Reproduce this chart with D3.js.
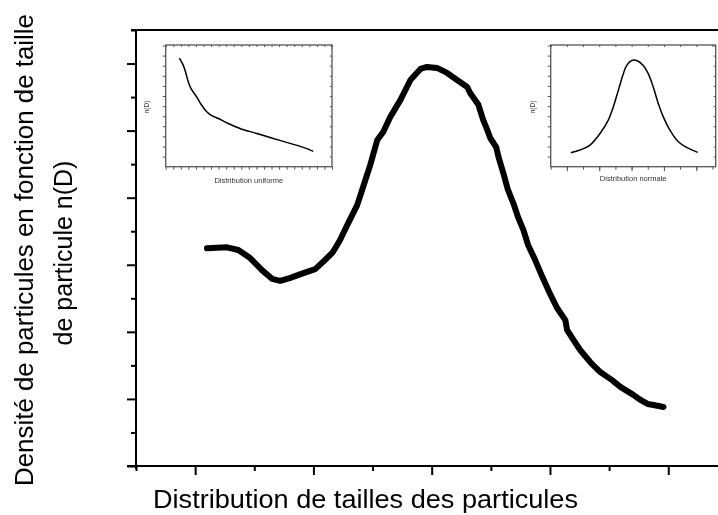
<!DOCTYPE html>
<html>
<head>
<meta charset="utf-8">
<script src="https://cdn.jsdelivr.net/npm/d3@7"></script>
<style>
  html, body { margin: 0; padding: 0; background: #fff; }
  svg { display: block; font-family: "Liberation Sans", Arial, Helvetica, sans-serif; will-change: transform; }
  text { -webkit-font-smoothing: antialiased; }
</style>
</head>
<body>
<svg id="chart" width="718" height="515"></svg>
<script>
// Main size distribution (arbitrary units on both axes)
const mainX = [1.20,1.54,1.73,1.93,2.13,2.30,2.44,2.61,2.83,3.03,3.16,3.33,3.45,3.59,3.74,3.84,3.96,4.08,4.18,4.30,
               4.47,4.64,4.81,4.92,5.09,5.26,5.43,5.60,5.65,5.79,5.87,5.94,5.99,6.09,6.13,6.21,6.29,6.38,6.46,6.55,
               6.63,6.75,6.87,7.01,7.12,7.26,7.29,7.43,7.51,7.68,7.85,8.05,8.19,8.41,8.53,8.65,8.75,8.92];
const mainY = [6.49,6.52,6.44,6.20,5.84,5.58,5.52,5.61,5.75,5.87,6.08,6.38,6.74,7.25,7.78,8.32,8.97,9.72,9.96,10.41,
               10.91,11.51,11.84,11.90,11.87,11.72,11.51,11.30,11.12,10.77,10.32,10.02,9.78,9.51,9.21,8.74,8.23,7.84,7.42,7.04,
               6.59,6.14,5.64,5.10,4.71,4.35,4.05,3.67,3.46,3.10,2.80,2.56,2.36,2.12,1.97,1.85,1.82,1.76];

// Inset: uniform distribution
const uniX = [1.80,2.33,2.69,2.99,3.35,4.10,4.76,5.33,5.99,6.96,8.28,9.83,12.04,14.23,16.44,18.20,19.52];
const uniY = [10.75,10.03,9.21,8.38,7.73,6.90,6.08,5.52,5.10,4.77,4.28,3.79,3.29,2.80,2.31,1.91,1.52];

// Inset: normal distribution
const normX = [1.24,1.81,2.43,3.05,3.56,3.87,4.18,4.49,4.70,5.01,5.32,5.72,6.03,6.34,6.65,6.96,7.37,7.89,8.41,9.09];
const normY = [1.38,1.65,2.14,3.29,4.61,5.92,7.56,9.21,10.03,10.52,10.52,10.03,9.21,7.89,6.25,4.93,3.62,2.47,1.91,1.42];

// Text
const xTitle = "Distribution de tailles des particules";
const yTitleLines = ["Densité de particules en fonction de taille", "de particule n(D)"];
const insetYTitle = "n(D)";
const uniTitle = "Distribution uniforme";
const normTitle = "Distribution normale";

const svg = d3.select("#chart");

// ---------- main plot ----------
const x = d3.scaleLinear().domain([0, 10]).range([136, 727.4]);
const y = d3.scaleLinear().domain([0, 13]).range([466, 30]);

const axisColor = "#000";
function styleAxis(g) {
  g.select(".domain").remove();
  g.selectAll("line").attr("stroke", axisColor).attr("stroke-width", 2);
  g.selectAll("text").remove();
}

const yMajor = d3.range(0, 13, 2);
const yMinor = d3.range(1, 14, 2);
const xMajor = d3.range(1, 10, 2);
const xMinor = d3.range(0, 11, 2);

svg.append("g").attr("transform", `translate(${x(0)},0)`)
  .call(d3.axisLeft(y).tickValues(yMajor).tickSize(9).tickFormat(""))
  .call(styleAxis);
svg.append("g").attr("transform", `translate(${x(0)},0)`)
  .call(d3.axisLeft(y).tickValues(yMinor).tickSize(5).tickFormat(""))
  .call(styleAxis);
svg.append("g").attr("transform", `translate(0,${y(0)})`)
  .call(d3.axisBottom(x).tickValues(xMajor).tickSize(9).tickFormat(""))
  .call(styleAxis);
svg.append("g").attr("transform", `translate(0,${y(0)})`)
  .call(d3.axisBottom(x).tickValues(xMinor).tickSize(5).tickFormat(""))
  .call(styleAxis);

// frame lines: left, bottom, top
svg.append("line").attr("x1", x(0)).attr("x2", x(0)).attr("y1", y(13) - 1).attr("y2", y(0) + 3)
  .attr("stroke", axisColor).attr("stroke-width", 2);
svg.append("line").attr("x1", x(0) - 9).attr("x2", 718).attr("y1", y(0)).attr("y2", y(0))
  .attr("stroke", axisColor).attr("stroke-width", 2);
svg.append("line").attr("x1", x(0) - 5).attr("x2", 718).attr("y1", y(13)).attr("y2", y(13))
  .attr("stroke", axisColor).attr("stroke-width", 2);

const mainLine = d3.line().x(d => x(d[0])).y(d => y(d[1])).curve(d3.curveLinear);
svg.append("path")
  .datum(d3.zip(mainX, mainY))
  .attr("d", mainLine)
  .attr("fill", "none")
  .attr("stroke", "#000")
  .attr("stroke-width", 6)
  .attr("stroke-linejoin", "round")
  .attr("stroke-linecap", "round");

// axis titles
svg.append("text")
  .attr("x", 153).attr("y", 508)
  .attr("font-size", 25)
  .attr("textLength", 425).attr("lengthAdjust", "spacingAndGlyphs")
  .attr("fill", "#000")
  .text(xTitle);

const yt = svg.append("text")
  .attr("transform", "translate(0,250) rotate(-90)")
  .attr("text-anchor", "middle")
  .attr("font-size", 25)
  .attr("fill", "#000");
yt.append("tspan").attr("x", 0).attr("y", 33)
  .attr("textLength", 472).attr("lengthAdjust", "spacingAndGlyphs")
  .text(yTitleLines[0]);
yt.append("tspan").attr("x", -3).attr("y", 72).text(yTitleLines[1]);

// ---------- insets ----------
function inset(opts) {
  const { xs, ys, xDomain, x0, x1, xMajorTicks, label, labelY, labelX } = opts;
  const ix = d3.scaleLinear().domain(xDomain).range([x0, x1]);
  const iy = d3.scaleLinear().domain([0, 12]).range([166.7, 45.5]);
  const g = svg.append("g");
  const frameColor = "#555";
  const sty = sel => {
    sel.select(".domain").remove();
    sel.selectAll("line").attr("stroke", frameColor).attr("stroke-width", 1);
    sel.selectAll("text").remove();
  };
  const xt = d3.range(Math.ceil(xDomain[0]), Math.floor(xDomain[1]) + 1);
  const yt = d3.range(1, 13);
  // frame
  g.append("rect")
    .attr("x", x0).attr("y", iy(12) - 0.5)
    .attr("width", x1 - x0).attr("height", iy(0) - iy(12) + 0.5)
    .attr("fill", "#fff").attr("stroke", frameColor).attr("stroke-width", 1.3);
  // ticks
  g.append("g").attr("transform", `translate(${x0},0)`)
    .call(d3.axisLeft(iy).tickValues(yt).tickSize(3).tickFormat("")).call(sty);
  g.append("g").attr("transform", `translate(${x1},0)`)
    .call(d3.axisLeft(iy).tickValues(yt).tickSize(2).tickFormat("")).call(sty);
  g.append("g").attr("transform", `translate(0,${iy(12) - 0.5})`)
    .call(d3.axisBottom(ix).tickValues(xt).tickSize(2).tickFormat("")).call(sty);
  g.append("g").attr("transform", `translate(0,${iy(0)})`)
    .call(d3.axisBottom(ix).tickValues(xt).tickSize(3).tickFormat("")).call(sty);
  if (xMajorTicks) {
    g.append("g").attr("transform", `translate(0,${iy(0)})`)
      .call(d3.axisBottom(ix).tickValues(xMajorTicks).tickSize(4.5).tickFormat("")).call(sty);
  }
  // curve
  g.append("path")
    .datum(d3.zip(xs, ys))
    .attr("d", d3.line().x(d => ix(d[0])).y(d => iy(d[1])).curve(d3.curveCatmullRom.alpha(0.5)))
    .attr("fill", "none").attr("stroke", "#000").attr("stroke-width", 1.5)
    .attr("stroke-linejoin", "round");
  // labels
  g.append("text")
    .attr("transform", `translate(${labelX},107) rotate(-90)`)
    .attr("text-anchor", "middle").attr("font-size", 6.5).attr("fill", "#333")
    .text(insetYTitle);
  g.append("text")
    .attr("x", (x0 + x1) / 2).attr("y", labelY)
    .attr("text-anchor", "middle").attr("font-size", 7.5).attr("fill", "#333")
    .text(label);
}

inset({ xs: uniX, ys: uniY, xDomain: [0, 22], x0: 165.7, x1: 332, xMajorTicks: null,
        label: uniTitle, labelY: 183, labelX: 149 });
inset({ xs: normX, ys: normY, xDomain: [0, 10.2], x0: 550.7, x1: 715.7, xMajorTicks: [1, 3, 5, 7, 9],
        label: normTitle, labelY: 181, labelX: 535 });
</script>
</body>
</html>
